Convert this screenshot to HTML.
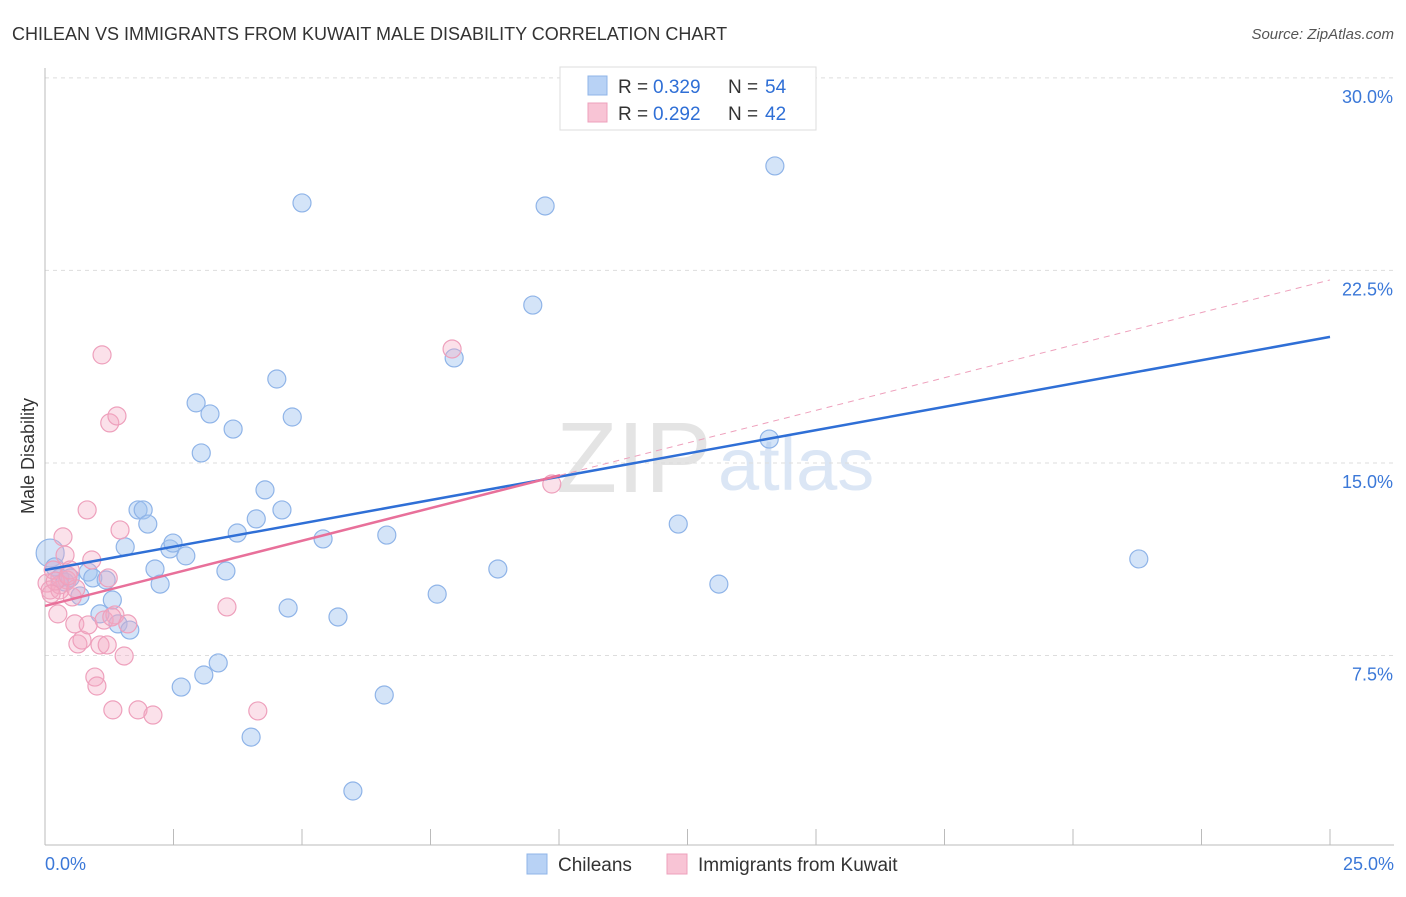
<!DOCTYPE html>
<html><head><meta charset="utf-8"><style>
body{margin:0;background:#fff;font-family:"Liberation Sans",sans-serif;}
svg text{font-family:"Liberation Sans",sans-serif;}
</style></head><body>
<svg id="chart" width="1406" height="892" xmlns="http://www.w3.org/2000/svg">
<text x="12" y="40" font-size="18" fill="#333">CHILEAN VS IMMIGRANTS FROM KUWAIT MALE DISABILITY CORRELATION CHART</text>
<text x="1394" y="39" font-size="15" fill="#555" text-anchor="end" font-style="italic">Source: ZipAtlas.com</text>
<text x="556" y="492" font-size="100" fill="#e4e4e4" font-family="Liberation Serif">ZIP</text>
<text x="718" y="490" font-size="74" fill="#dbe6f5">atlas</text>
<text x="34" y="456" font-size="18" fill="#333" text-anchor="middle" transform="rotate(-90 34 456)">Male Disability</text>
<g id="grid"></g><g id="marks"></g>
<g>
<rect x="560" y="67" width="256" height="63" fill="#fff" stroke="#ddd"/>
<rect x="588" y="76" width="19" height="19" fill="#b8d2f5" stroke="#8fb4e8"/>
<rect x="588" y="103" width="19" height="19" fill="#f8c4d5" stroke="#eea0bc"/>
<text x="618" y="93" font-size="19" fill="#333">R =</text>
<text x="653" y="93" font-size="19" fill="#2f6fd6">0.329</text>
<text x="728" y="93" font-size="19" fill="#333">N =</text>
<text x="765" y="93" font-size="19" fill="#2f6fd6">54</text>
<text x="618" y="120" font-size="19" fill="#333">R =</text>
<text x="653" y="120" font-size="19" fill="#2f6fd6">0.292</text>
<text x="728" y="120" font-size="19" fill="#333">N =</text>
<text x="765" y="120" font-size="19" fill="#2f6fd6">42</text>
</g>
<g>
<rect x="527" y="854" width="20" height="20" fill="#b8d2f5" stroke="#8fb4e8"/>
<text x="558" y="871" font-size="19" fill="#333">Chileans</text>
<rect x="667" y="854" width="20" height="20" fill="#f8c4d5" stroke="#eea0bc"/>
<text x="698" y="871" font-size="19" fill="#333">Immigrants from Kuwait</text>
</g>
<text x="45" y="870" font-size="18" fill="#3b78d8">0.0%</text>
<text x="1394" y="870" font-size="18" fill="#3b78d8" text-anchor="end">25.0%</text>
</svg>
<script>
const yTicks=[7.5,15,22.5,30];
const yTickLabels=["7.5%","15.0%","22.5%","30.0%"];
const xTicks=[0,2.5,5,7.5,10,12.5,15,17.5,20,22.5,25];
const blueX=[0.10,0.19,0.29,0.39,0.49,0.68,0.84,0.93,1.07,1.19,1.31,1.42,1.56,1.65,1.81,1.91,2.00,2.14,2.24,2.43,2.49,2.65,2.74,2.94,3.04,3.09,3.21,3.37,3.52,3.66,3.74,4.01,4.11,4.28,4.51,4.61,4.73,4.81,5.00,5.41,5.70,5.99,6.60,6.65,7.63,7.96,8.81,9.49,9.73,12.32,13.11,14.09,14.20,21.28];
const blueY=[11.49,10.95,10.52,10.36,10.52,9.82,10.75,10.52,9.12,10.44,9.66,8.73,11.73,8.49,13.17,13.17,12.62,10.87,10.28,11.65,11.88,6.27,11.38,17.34,15.39,6.74,16.91,7.21,10.79,16.32,12.27,4.32,12.82,13.95,18.27,13.17,9.35,16.79,25.13,12.04,9.00,2.22,5.96,12.19,9.89,19.09,10.87,21.15,25.01,12.62,10.28,15.93,26.57,11.26];
const pinkX=[0.04,0.10,0.16,0.25,0.29,0.35,0.39,0.43,0.49,0.53,0.58,0.64,0.72,0.82,0.84,0.91,0.97,1.01,1.07,1.11,1.15,1.21,1.23,1.26,1.32,1.36,1.40,1.46,1.54,1.61,1.81,2.10,3.54,4.14,7.92,9.86,0.29,0.20,0.60,0.45,0.12,1.30];
const pinkY=[10.32,10.05,10.83,9.12,10.05,12.12,11.41,10.44,10.83,9.78,8.73,7.95,8.10,13.17,8.69,11.22,6.66,6.31,7.91,19.21,8.88,7.91,10.52,16.56,5.38,9.08,16.83,12.39,7.48,8.73,5.38,5.18,9.39,5.34,19.44,14.18,10.25,10.40,10.10,10.60,9.90,9.00];
const blueTrend=[10.83,0.3632];
const pinkTrend=[9.43,0.508];
const pinkSolidEnd=10.02;
const NS="http://www.w3.org/2000/svg";
const X=v=>45+v*51.4, Y=v=>848-v*25.67;
const grid=document.getElementById('grid'), marks=document.getElementById('marks');
function mk(tag,at,parent){const e=document.createElementNS(NS,tag);for(const k in at)e.setAttribute(k,at[k]);parent.appendChild(e);return e;}
yTicks.forEach((t,i)=>{
 const l=mk('line',{x1:45,x2:1394,y1:Y(t),y2:Y(t),stroke:'#ddd','stroke-dasharray':'4,4'},grid);
 
 
 const tx=mk('text',{x:1393,y:Y(t)+25,'font-size':18,fill:'#3b78d8','text-anchor':'end'},grid);
 tx.textContent=yTickLabels[i];
 
 
});
const ax=mk('line',{x1:45,x2:45,y1:68,y2:845,stroke:'#bbb'},grid);


const bx=mk('line',{x1:45,x2:1394,y1:845,y2:845,stroke:'#bbb'},grid);


xTicks.forEach(t=>{
 const l=mk('line',{x1:X(t),x2:X(t),y1:829,y2:845,stroke:'#bbb'},grid);
 
 
});
blueX.forEach((v,i)=>{
 const c=mk('circle',{cx:X(v),cy:Y(blueY[i]),r:i===0?14:9,fill:'rgba(160,196,240,0.45)',stroke:'#8fb4e8','stroke-width':1.2},marks);
 
 
});
pinkX.forEach((v,i)=>{
 const c=mk('circle',{cx:X(v),cy:Y(pinkY[i]),r:9,fill:'rgba(244,170,196,0.35)',stroke:'#eea0bc','stroke-width':1.2},marks);
 
 
});
const bl=mk('line',{x1:X(0),y1:Y(blueTrend[0]),x2:X(25),y2:Y(blueTrend[0]+25*blueTrend[1]),stroke:'#2f6fd6','stroke-width':2.5},marks);


const pd=mk('line',{x1:X(pinkSolidEnd),y1:Y(pinkTrend[0]+pinkSolidEnd*pinkTrend[1]),x2:X(25),y2:Y(pinkTrend[0]+25*pinkTrend[1]),stroke:'#eea0bc','stroke-width':1,'stroke-dasharray':'6,5'},marks);


const pl=mk('line',{x1:X(0),y1:Y(pinkTrend[0]),x2:X(pinkSolidEnd),y2:Y(pinkTrend[0]+pinkSolidEnd*pinkTrend[1]),stroke:'#e8709a','stroke-width':2.5},marks);


</script>
</body></html>
